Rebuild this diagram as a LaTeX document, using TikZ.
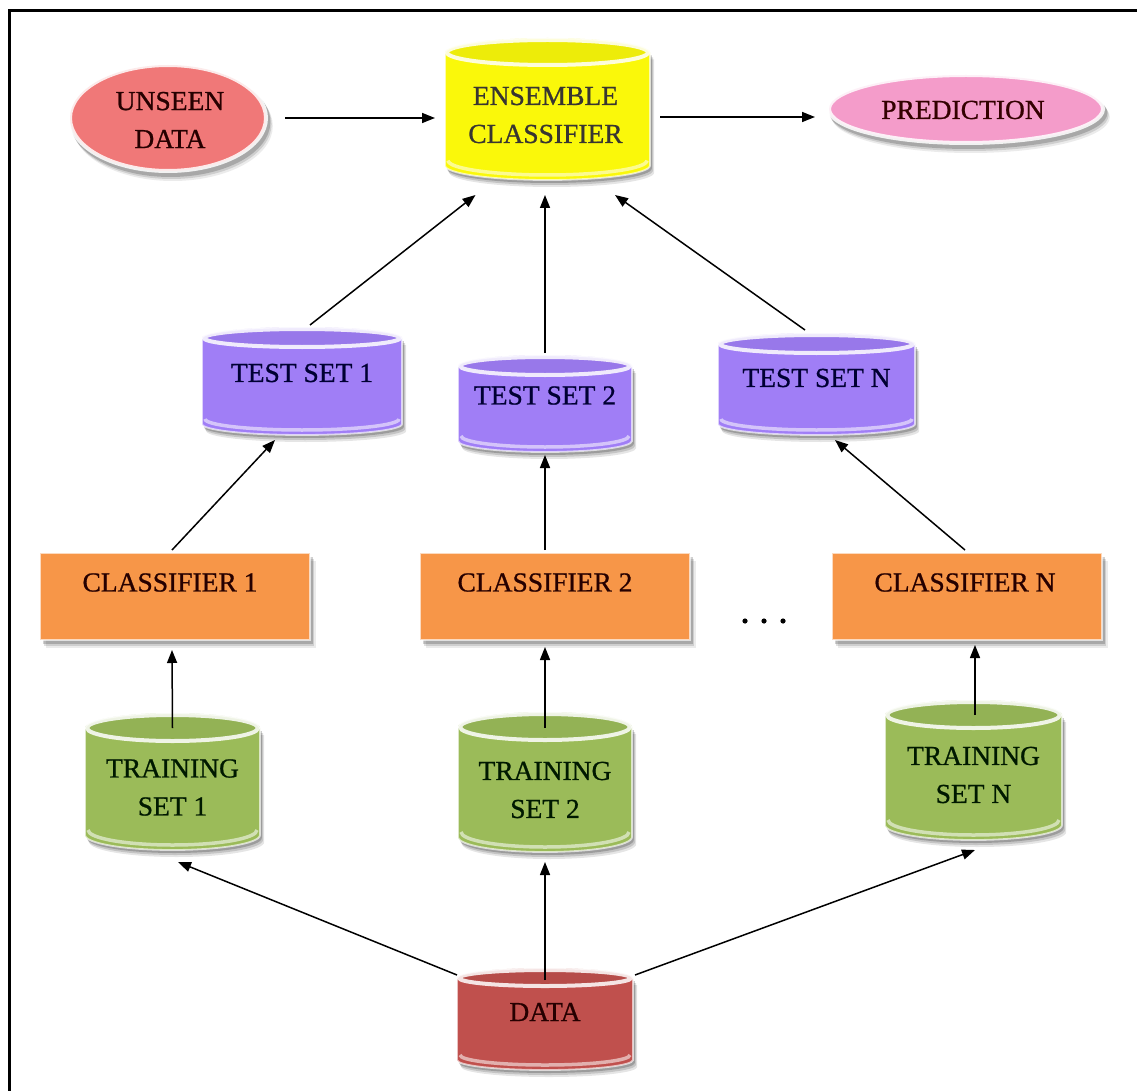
\documentclass[tikz,border=0pt]{standalone}
\usepackage{fontspec}
\setmainfont{Liberation Serif}[FakeBold=0.8]
\usetikzlibrary{arrows.meta,calc}

\definecolor{unseenC}{RGB}{240,120,120}
\definecolor{ensC}{RGB}{250,248,10}
\definecolor{predC}{RGB}{244,156,202}
\definecolor{testC}{RGB}{160,126,246}
\definecolor{clfC}{RGB}{247,150,72}
\definecolor{trainC}{RGB}{155,187,89}
\definecolor{dataC}{RGB}{192,80,77}

\tikzset{
  hitbox/.style={rectangle, inner sep=0pt, outer sep=0pt, draw=none},
  lbl/.style={inner sep=0pt, align=center, font=\fontsize{27.5}{38}\selectfont},
  link/.style={line width=1.5pt, -{Triangle[length=13pt,width=10pt]}},
  rim/.style={draw=white, line width=4pt, draw opacity=0.85},
  edge/.style={draw=white, line width=1.8pt, draw opacity=0.65},
}

% cylinder: name, left, right, top, bottom, end radius, colour
\newcommand\mkdrum[7]{%
  \pgfmathsetmacro\dL{#2}\pgfmathsetmacro\dR{#3}%
  \pgfmathsetmacro\dT{#4}\pgfmathsetmacro\dB{#5}%
  \pgfmathsetmacro\dry{#6}%
  \pgfmathsetmacro\drx{(\dR-\dL)/2}\pgfmathsetmacro\dcx{(\dL+\dR)/2}%
  \foreach \o/\op in {7/0.10,5/0.14,3/0.20}{%
    \fill[black, opacity=\op, shift={(\o*0.6,\o)}]
      (\dL,\dT+\dry) -- (\dL,\dB-\dry)
      arc[start angle=180,end angle=0,x radius=\drx,y radius=\dry]
      -- (\dR,\dT+\dry) -- cycle;}
  \path[fill=#7, edge]
    (\dL,\dT+\dry) -- (\dL,\dB-\dry)
    arc[start angle=180,end angle=0,x radius=\drx,y radius=\dry]
    -- (\dR,\dT+\dry)
    arc[start angle=0,end angle=-180,x radius=\drx,y radius=\dry] -- cycle;
  \draw[white, opacity=0.55, line width=3.5pt]
    (\dL+3,\dB-\dry-5) arc[start angle=180,end angle=0,x radius=\drx-3,y radius=\dry];
  \path[fill=#7!95!black, rim] (\dcx,\dT+\dry) ellipse[x radius=\drx-2, y radius=\dry-2];
  \node[hitbox, minimum width={#3-#2}, minimum height={#5-#4}] (#1)
    at ({(#2+#3)/2},{(#4+#5)/2}) {};
}

% rectangle: name, left, right, top, bottom, colour
\newcommand\mkbox[6]{%
  \foreach \o/\op in {8/0.08,6/0.12,4/0.18}{%
    \fill[black, opacity=\op] (#2+\o*0.7,#4+\o) rectangle (#3+\o*0.7,#5+\o);}
  \path[fill=#6, edge] (#2,#4) rectangle (#3,#5);
  \node[hitbox, minimum width={#3-#2}, minimum height={#5-#4}] (#1)
    at ({(#2+#3)/2},{(#4+#5)/2}) {};
}

% ellipse: name, centre x, centre y, x radius, y radius, colour
\newcommand\mkblob[6]{%
  \foreach \o/\op in {8/0.08,6/0.12,4/0.18}{%
    \fill[black, opacity=\op] (#2+\o*0.6,#3+\o) ellipse[x radius=#4, y radius=#5];}
  \path[fill=#6, rim] (#2,#3) ellipse[x radius=#4-2, y radius=#5-2];
  \node[hitbox, minimum width={2*(#4)}, minimum height={2*(#5)}] (#1) at (#2,#3) {};
}

\begin{document}
\begin{tikzpicture}[x=1pt,y=-1pt]
\useasboundingbox (0,0) rectangle (1137,1091);
\fill[white] (0,0) rectangle (1137,1091);

% frame
\draw[line width=3pt] (9.5,1095) -- (9.5,10.5) -- (1140,10.5);

% top row
\mkblob{unseen}{168}{118}{100}{55}{unseenC}
\mkdrum{ens}{445}{650}{38}{180}{14.5}{ensC}
\mkblob{pred}{966}{109}{139}{36}{predC}

% test sets
\mkdrum{ts1}{202}{402}{327}{435}{11}{testC}
\mkdrum{ts2}{458}{632}{355}{452}{11}{testC}
\mkdrum{tsn}{718}{915}{333}{435}{11}{testC}

% classifiers
\mkbox{c1}{40}{310}{553}{640}{clfC}
\mkbox{c2}{420}{690}{553}{640}{clfC}
\mkbox{cn}{832}{1102}{553}{640}{clfC}

% training sets
\mkdrum{tr1}{85}{260}{713}{850}{15}{trainC}
\mkdrum{tr2}{458}{632}{712}{852}{15}{trainC}
\mkdrum{trn}{885}{1062}{700}{840}{15}{trainC}

% source data
\mkdrum{data}{457}{633}{968}{1070}{10}{dataC}

% labels
\node[lbl, text=black!85!red] (unseen-t) at ($(unseen.center)+(2,2)$) {UNSEEN\\DATA};
\node[lbl, text=black!90!yellow] (ens-t) at ($(ens.center)+(-2,6)$) {ENSEMBLE\\CLASSIFIER};
\node[lbl, text=black!80!red] (pred-t) at ($(pred.center)+(-3,1)$) {PREDICTION};
\node[lbl, text=black!80!blue] (ts1-t) at ($(ts1.center)+(0,-8)$) {TEST SET 1};
\node[lbl, text=black!80!blue] (ts2-t) at ($(ts2.center)+(0,-8)$) {TEST SET 2};
\node[lbl, text=black!80!blue] (tsn-t) at ($(tsn.center)+(0,-6)$) {TEST SET N};
\node[lbl, text=black!85!red] (c1-t) at ($(c1.center)+(-5,-14)$) {CLASSIFIER 1};
\node[lbl, text=black!85!red] (c2-t) at ($(c2.center)+(-10,-14)$) {CLASSIFIER 2};
\node[lbl, text=black!85!red] (cn-t) at ($(cn.center)+(-2,-14)$) {CLASSIFIER N};
\node[lbl, text=black!90!green] (tr1-t) at ($(tr1.center)+(0,6)$) {TRAINING\\SET 1};
\node[lbl, text=black!90!green] (tr2-t) at ($(tr2.center)+(0,8)$) {TRAINING\\SET 2};
\node[lbl, text=black!90!green] (trn-t) at ($(trn.center)+(0,5)$) {TRAINING\\SET N};
\node[lbl, text=black!85!red] (data-t) at ($(data.center)+(0,-7)$) {DATA};

% ellipsis between the classifiers
\foreach \xx in {745,764,783} \fill (\xx,621) circle[radius=2.6];

% connectors
\draw[link] ($(unseen.east)+(17,0)$) -- ($(ens.west)+(-10,9)$);
\draw[link] ($(ens.east)+(10,8)$) -- ($(pred.west)+(-12,8)$);

\draw[link] ($(ts1.north)+(8,-2)$) -- ($(ens.south)+(-72,15)$);
\draw[link] ($(ts2.north)+(0,-2)$) -- ($(ens.south)+(-2.5,15)$);
\draw[link] ($(tsn.north)+(-11.5,-3)$) -- ($(ens.south)+(67.5,15)$);

\draw[link] ($(c1.north)+(-3,-3)$) -- ($(ts1.south)+(-27,5)$);
\draw[link] ($(c2.north)+(-10,-3)$) -- ($(ts2.south)+(0,3)$);
\draw[link] ($(cn.north)+(-2,-3)$) -- ($(tsn.south)+(18.5,5)$);

\draw[link] ($(tr1.north)+(0,15)$) -- ($(c1.south)+(-3,10)$);
\draw[link] ($(tr2.north)+(0,16)$) -- ($(c2.south)+(-10,7)$);
\draw[link] ($(trn.north)+(1.5,15)$) -- ($(cn.south)+(8,5)$);

\draw[link] ($(data.north west)+(0,7)$) -- ($(tr1.south)+(5.5,12)$);
\draw[link] ($(data.north)+(0,12)$) -- ($(tr2.south)+(0,10)$);
\draw[link] ($(data.north east)+(2,7)$) -- ($(trn.south)+(1.5,10)$);
\end{tikzpicture}
\end{document}
